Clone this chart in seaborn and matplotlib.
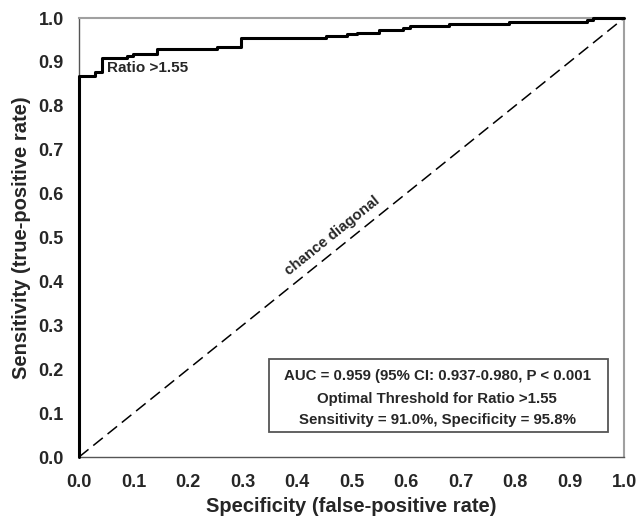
import matplotlib
matplotlib.use("Agg")
import matplotlib.pyplot as plt
from matplotlib.patches import Rectangle
import seaborn as sns
import pandas as pd

# ROC curve corner points
fpr = [0.0, 0.0, 0.029, 0.042, 0.088, 0.100, 0.143, 0.253, 0.298, 0.453,
       0.491, 0.510, 0.550, 0.595, 0.607, 0.679, 0.789, 0.932, 0.943, 1.0]
tpr = [0.0, 0.868, 0.878, 0.910, 0.914, 0.918, 0.930, 0.935, 0.955, 0.959,
       0.963, 0.967, 0.972, 0.977, 0.982, 0.986, 0.991, 0.995, 1.0, 1.0]
diag = [0.0, 1.0]
ticks = [0.0, 0.1, 0.2, 0.3, 0.4, 0.5, 0.6, 0.7, 0.8, 0.9, 1.0]
tick_labels = [f"{t:.1f}" for t in ticks]

info_lines = ["AUC = 0.959 (95% CI: 0.937-0.980, P < 0.001",
              "Optimal Threshold for Ratio >1.55",
              "Sensitivity = 91.0%, Specificity = 95.8%"]
point_label = "Ratio >1.55"
diag_label = "chance diagonal"
xlabel = "Specificity (false-positive rate)"
ylabel = "Sensitivity (true-positive rate)"

sns.set_style("white")
plt.rcParams["font.family"] = ["Liberation Sans", "DejaVu Sans"]
plt.rcParams["font.weight"] = "bold"

fig = plt.figure(figsize=(6.37, 5.17), dpi=100)
ax = fig.add_axes([0.124, 0.116, 0.8556, 0.849])

df = pd.DataFrame({"fpr": fpr, "tpr": tpr})
sns.lineplot(data=df, x="fpr", y="tpr", ax=ax, estimator=None, sort=False,
             drawstyle="steps-post", color="black", linewidth=2.2, clip_on=False,
             zorder=5)
dd = pd.DataFrame({"x": diag, "y": diag})
sns.lineplot(data=dd, x="x", y="y", ax=ax, estimator=None, sort=False,
             color="black", linewidth=1.1, linestyle=(0, (8, 4)), zorder=4)

ax.set_xlim(0, 1)
ax.set_ylim(0, 1)
ax.set_xticks(ticks)
ax.set_xticklabels(tick_labels, fontsize=13, fontweight="bold")
ax.set_yticks(ticks)
ax.set_yticklabels(tick_labels, fontsize=13, fontweight="bold")
ax.tick_params(axis="x", direction="out", length=5, width=1, color="#555555", pad=7)
ax.tick_params(axis="y", direction="out", length=5, width=1, color="#555555", pad=6)
ax.set_xlabel(xlabel, fontsize=14.5, fontweight="bold")
ax.set_ylabel(ylabel, fontsize=14.5, fontweight="bold")
ax.xaxis.set_label_coords(0.5, -0.092)
ax.yaxis.set_label_coords(-0.088, 0.5)

for s in ["left", "bottom"]:
    ax.spines[s].set_color("#555555")
    ax.spines[s].set_linewidth(1.0)
for s in ["top", "right"]:
    ax.spines[s].set_color("#a0a0a0")
    ax.spines[s].set_linewidth(1.5)

ax.text(0.051, 0.886, point_label, fontsize=11, fontweight="bold",
        ha="left", va="center", zorder=6)
ax.text(0.464, 0.503, diag_label, fontsize=10.8, fontweight="bold",
        ha="center", va="center", rotation=38.8, rotation_mode="anchor")

ax.add_patch(Rectangle((0.349, 0.057), 0.622, 0.166, transform=ax.transData,
                       facecolor="white", edgecolor="#555555", linewidth=1.3,
                       zorder=6))
for yy, line in zip([0.185, 0.133, 0.084], info_lines):
    ax.text(0.657, yy, line, fontsize=10.8, fontweight="bold",
            ha="center", va="center", zorder=7)

fig.savefig("out.png", dpi=100)
